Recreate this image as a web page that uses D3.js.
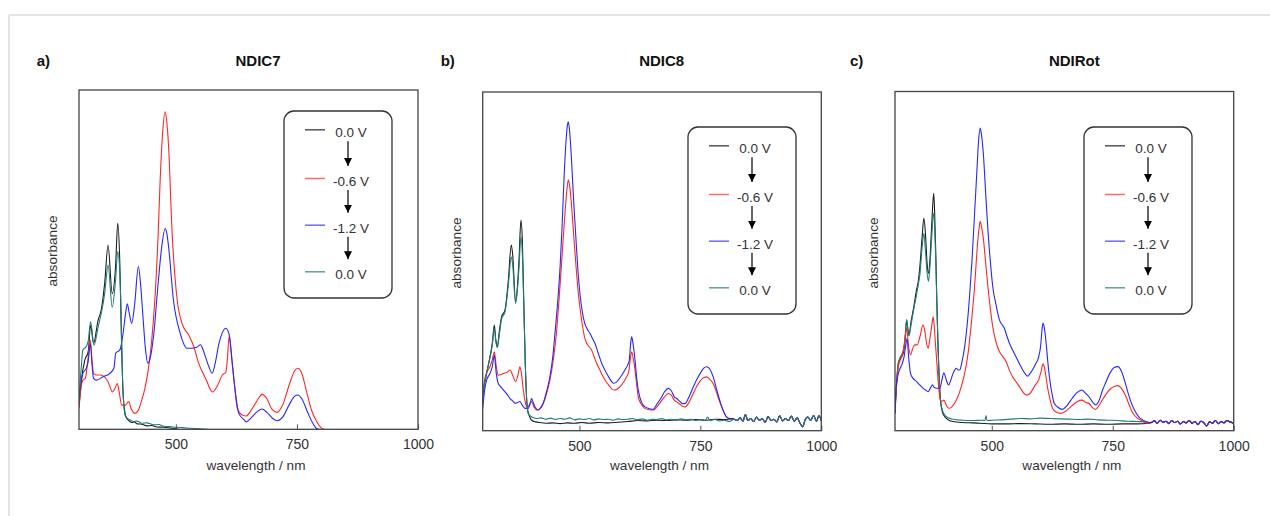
<!DOCTYPE html>
<html>
<head>
<meta charset="utf-8">
<script src="https://cdn.jsdelivr.net/npm/d3@7"></script>
<style>
  body { margin: 0; background: #fff; }
  text { font-family: "Liberation Sans", Arial, sans-serif; }
</style>
</head>
<body>
<div id="chart"></div>
<script>
// wavelength / nm vs absorbance (arbitrary units, no y ticks)
const wlTicks = [500, 750, 1000];
const legendLabels = ["0.0 V", "-0.6 V", "-1.2 V", "0.0 V"];
const panelTitles = ["NDIC7", "NDIC8", "NDIRot"];
const panelLetters = ["a)", "b)", "c)"];

// ---- NDIC7 ----
const a_black = [[300,0.067],[305,0.145],[312,0.204],[319,0.229],[324,0.307],[330,0.253],[339.5,0.322],[346,0.352],[353,0.43],[360,0.543],[368.6,0.40],[375.5,0.48],[380,0.607],[384.5,0.48],[388,0.244],[391.4,0.096],[397,0.037],[402,0.027],[408.8,0.02],[414,0.022],[420,0.016],[430,0.015],[440,0.010],[450,0.011],[460,0.007],[475,0.006],[488,0.004],[505,0.001]];
const a_teal = [[300,0.086],[304,0.17],[308,0.234],[315,0.244],[319,0.26],[324,0.317],[331,0.248],[339.5,0.302],[346,0.342],[353,0.40],[360,0.484],[368.6,0.36],[375.5,0.44],[380,0.524],[386,0.39],[390,0.145],[395,0.042],[400,0.032],[405,0.028],[412,0.023],[420,0.024],[430,0.018],[440,0.019],[454,0.013],[465,0.014],[475,0.009],[488,0.008],[500,0.006],[515,0.005],[530,0.003],[545,0.002],[560,0.001],[566,0]];
const a_red = [[300,0.062],[304,0.12],[308,0.145],[313,0.15],[318,0.2],[323.5,0.263],[327,0.2],[330,0.165],[336,0.16],[345,0.16],[352,0.155],[360,0.14],[369,0.11],[374,0.12],[379,0.135],[383,0.11],[388,0.072],[395,0.07],[402.5,0.082],[408,0.06],[415.7,0.047],[422,0.055],[429.5,0.086],[436,0.12],[443,0.175],[450,0.26],[457,0.39],[463,0.56],[467.6,0.735],[473,0.88],[478,0.936],[481,0.91],[485,0.833],[492,0.587],[502,0.39],[512.7,0.312],[526.5,0.278],[537,0.244],[547,0.195],[556,0.165],[564.6,0.14],[570,0.12],[576,0.11],[585,0.126],[596,0.16],[603,0.168],[606,0.2],[610,0.273],[614,0.23],[620,0.145],[627,0.062],[637,0.042],[645,0.039],[655,0.055],[668,0.085],[678,0.103],[688,0.09],[698,0.06],[709,0.05],[720,0.07],[735,0.135],[745,0.172],[752,0.18],[760,0.165],[770,0.11],[780,0.057],[790,0.025],[801,0.003],[806,0]];
const a_blue = [[300,0.09],[304,0.14],[308,0.165],[315,0.18],[319,0.2],[323.5,0.253],[327,0.19],[330,0.15],[336,0.145],[350,0.155],[364,0.165],[372,0.18],[376,0.225],[384.5,0.234],[391,0.283],[396,0.34],[399.7,0.37],[404,0.34],[408.8,0.312],[415,0.37],[422.6,0.48],[427,0.43],[431.6,0.342],[437,0.24],[442,0.195],[447,0.21],[453.8,0.273],[464,0.44],[471,0.54],[478,0.592],[481,0.58],[485,0.538],[495,0.381],[509,0.283],[523,0.239],[533,0.239],[543,0.242],[551,0.249],[556,0.235],[561,0.214],[568,0.185],[575,0.165],[582,0.2],[589,0.253],[596,0.285],[603,0.298],[609,0.285],[612,0.263],[616,0.2],[620,0.145],[630,0.047],[641,0.028],[645,0.022],[655,0.033],[668,0.052],[678,0.06],[688,0.05],[700,0.032],[710,0.025],[720,0.035],[735,0.075],[745,0.097],[752,0.101],[760,0.09],[773,0.047],[782,0.02],[790,0.003],[795,0]];

// ---- NDIC8 ----
// common noisy baseline where all four traces coincide
const b_tail = [[820,0.034],[826,0.03],[832,0.038],[838,0.028],[843,0.048],[848,0.03],[854,0.036],[860,0.027],[866,0.04],[872,0.031],[878,0.035],[884,0.025],[890,0.042],[896,0.03],[902,0.034],[908,0.026],[914,0.044],[920,0.029],[926,0.036],[932,0.03],[938,0.043],[944,0.028],[950,0.038],[956,0.022],[962,0.012],[966,0.03],[972,0.04],[978,0.03],[984,0.045],[990,0.028],[995,0.044],[1000,0.03]];
const b_black = [[300,0.1],[304,0.14],[308,0.169],[315,0.218],[320,0.26],[324,0.312],[327,0.27],[330,0.248],[335,0.3],[339,0.336],[346,0.356],[353,0.444],[359,0.548],[362,0.52],[368,0.38],[372,0.43],[375,0.503],[379,0.621],[382,0.56],[384,0.444],[388,0.199],[392,0.071],[396,0.045],[401,0.031],[410,0.026],[418.5,0.024],[430,0.022],[445,0.023],[460,0.021],[475,0.023],[490,0.022],[505,0.024],[520,0.022],[540,0.024],[560,0.023],[580,0.025],[600,0.027],[620,0.03],[640,0.029],[660,0.031],[680,0.030],[700,0.032],[720,0.031],[740,0.033],[760,0.031],[780,0.034],[800,0.033],[815,0.035]];
const b_teal = [[300,0.095],[304,0.14],[308,0.17],[315,0.215],[320,0.255],[324,0.302],[327,0.265],[330,0.245],[335,0.29],[339,0.33],[346,0.35],[353,0.43],[359,0.513],[362,0.49],[368,0.376],[372,0.42],[375,0.48],[379,0.572],[382,0.52],[384,0.42],[388,0.2],[391,0.09],[394,0.051],[400,0.042],[405,0.038],[411.5,0.036],[420,0.038],[430,0.034],[440,0.037],[450,0.033],[460,0.036],[470,0.034],[480,0.038],[490,0.032],[500,0.035],[510,0.033],[520,0.036],[530,0.032],[540,0.035],[550,0.033],[560,0.034],[570,0.031],[580,0.035],[590,0.033],[600,0.034],[610,0.036],[620,0.032],[630,0.035],[640,0.031],[650,0.034],[660,0.033],[670,0.036],[680,0.032],[690,0.034],[700,0.031],[710,0.035],[720,0.032],[730,0.034],[740,0.03],[750,0.033],[760,0.031],[765,0.04],[770,0.03],[780,0.033],[790,0.029],[800,0.031],[810,0.027]];
const b_red = [[300,0.105],[304,0.15],[308,0.17],[315,0.189],[320,0.21],[324,0.233],[328,0.19],[332,0.164],[337,0.165],[343,0.169],[350,0.172],[356.5,0.179],[362,0.164],[368,0.145],[373,0.165],[377,0.189],[380,0.17],[384,0.12],[388,0.085],[391,0.071],[396,0.075],[401,0.086],[406,0.07],[411.5,0.061],[416,0.063],[422,0.071],[430,0.1],[439,0.149],[446,0.21],[453,0.297],[458,0.39],[463,0.494],[470,0.641],[474,0.71],[477,0.741],[480,0.72],[484,0.66],[488,0.58],[493,0.484],[498,0.4],[504.5,0.326],[510,0.28],[515,0.258],[520,0.248],[525,0.238],[530,0.22],[535.5,0.199],[542,0.18],[549,0.159],[556,0.143],[563,0.13],[568,0.122],[573,0.12],[578,0.123],[584,0.13],[591,0.143],[597.5,0.159],[602,0.175],[605,0.21],[608,0.233],[611,0.215],[615,0.179],[618,0.14],[621.6,0.1],[628,0.078],[635,0.066],[644,0.062],[652.5,0.061],[660,0.07],[668,0.085],[676,0.1],[683.5,0.11],[690,0.105],[696,0.09],[701,0.085],[708,0.078],[713,0.072],[718,0.07],[725,0.08],[732,0.1],[742,0.13],[750,0.148],[757,0.157],[763,0.159],[769,0.152],[776.5,0.139],[783,0.115],[790,0.085],[797,0.06],[804,0.041],[810,0.036],[815,0.033]];
const b_blue = [[300,0.065],[304,0.12],[308,0.149],[315,0.169],[320,0.19],[324,0.223],[328,0.17],[332,0.14],[337,0.13],[343,0.12],[350,0.108],[356.5,0.095],[362,0.088],[367,0.081],[372,0.083],[377,0.086],[382,0.075],[387.5,0.066],[394,0.066],[398,0.08],[401,0.095],[404,0.085],[408,0.071],[415,0.061],[420,0.068],[425,0.081],[432,0.115],[439,0.16],[445,0.22],[449.4,0.287],[455,0.38],[460,0.484],[464,0.6],[468,0.74],[472,0.85],[475,0.9],[477,0.912],[480,0.88],[484,0.789],[488,0.68],[493,0.562],[497,0.47],[501,0.405],[506,0.35],[511,0.317],[516,0.3],[522,0.287],[527,0.272],[532,0.258],[539,0.228],[546,0.199],[553,0.178],[560,0.16],[565,0.148],[570,0.14],[575,0.142],[580,0.149],[587,0.163],[594,0.179],[600,0.195],[603,0.208],[606,0.26],[608,0.277],[611,0.255],[615,0.208],[618,0.16],[621.6,0.12],[628,0.085],[635,0.071],[645,0.065],[652.5,0.063],[660,0.078],[668,0.095],[676,0.115],[683.5,0.125],[690,0.118],[696,0.1],[701,0.095],[708,0.086],[713,0.08],[718,0.08],[725,0.095],[732,0.118],[742,0.15],[750,0.17],[757,0.185],[763,0.189],[769,0.183],[776.5,0.159],[783,0.125],[790,0.09],[797,0.06],[804,0.041],[811,0.036],[818,0.036]];

// ---- NDIRot ----
const c_tail = [[830,0.024],[836,0.029],[842,0.022],[848,0.031],[854,0.025],[860,0.028],[866,0.021],[872,0.03],[878,0.024],[884,0.028],[890,0.02],[896,0.027],[902,0.023],[908,0.03],[914,0.022],[920,0.027],[926,0.018],[932,0.028],[938,0.024],[944,0.014],[950,0.026],[956,0.022],[962,0.03],[968,0.021],[974,0.027],[980,0.023],[986,0.03],[992,0.026],[1000,0.022]];
const c_black = [[300,0.051],[303,0.13],[307,0.199],[312,0.215],[317,0.228],[321,0.27],[324,0.326],[327,0.295],[329,0.282],[333,0.32],[337.7,0.356],[344.5,0.415],[348,0.44],[351.4,0.484],[356,0.57],[359.6,0.626],[363,0.58],[366,0.5],[369,0.464],[372,0.5],[375.4,0.592],[380,0.70],[382,0.64],[384.3,0.523],[386.5,0.38],[389,0.248],[391.5,0.15],[394,0.09],[398,0.055],[403,0.041],[410,0.032],[420,0.027],[440,0.024],[460,0.023],[475,0.022],[500,0.02],[530,0.02],[560,0.021],[590,0.02],[620,0.019],[650,0.02],[680,0.019],[710,0.02],[740,0.019],[770,0.02],[800,0.02],[825,0.022]];
const c_teal = [[300,0.06],[303,0.14],[307,0.2],[312,0.22],[317,0.235],[321,0.28],[324,0.328],[327,0.29],[329,0.28],[333,0.31],[337.7,0.35],[344.5,0.4],[348,0.43],[351.4,0.46],[356,0.54],[359.6,0.582],[363,0.53],[366,0.47],[369,0.44],[372,0.48],[375.4,0.56],[380,0.641],[382,0.6],[384.3,0.5],[386.5,0.37],[389,0.24],[391.5,0.145],[394,0.09],[398,0.06],[403,0.046],[410,0.038],[420,0.034],[440,0.031],[460,0.03],[480,0.031],[486,0.03],[488,0.045],[490,0.03],[500,0.031],[520,0.032],[540,0.034],[560,0.036],[580,0.035],[600,0.037],[620,0.036],[640,0.035],[660,0.034],[680,0.033],[700,0.034],[720,0.032],[740,0.031],[760,0.03],[780,0.028],[800,0.027],[825,0.025]];
const c_red = [[300,0.065],[303,0.13],[307,0.189],[310,0.205],[314,0.218],[319,0.25],[324,0.302],[328,0.25],[332,0.223],[336,0.24],[341,0.253],[346,0.253],[352,0.28],[358,0.312],[362,0.29],[365,0.26],[368.5,0.243],[372,0.27],[376,0.31],[379,0.336],[381,0.31],[384,0.248],[386.5,0.2],[389,0.149],[394,0.09],[398,0.087],[401,0.09],[406,0.075],[411,0.066],[416,0.068],[423,0.081],[430,0.1],[437,0.13],[444,0.17],[451,0.228],[458,0.32],[464.5,0.425],[470,0.54],[474,0.6],[476,0.617],[479,0.6],[483,0.562],[487,0.5],[492,0.425],[497,0.36],[502,0.307],[509,0.26],[516,0.233],[522,0.22],[529.6,0.204],[536,0.18],[543,0.159],[550,0.145],[557,0.13],[564,0.115],[571,0.105],[578,0.108],[584,0.12],[590,0.135],[597,0.15],[602,0.175],[606,0.197],[609,0.185],[612,0.16],[615,0.13],[620,0.095],[625.6,0.066],[633,0.055],[643,0.051],[655,0.06],[667,0.075],[677,0.086],[686,0.09],[695,0.083],[701,0.08],[708,0.068],[714.6,0.063],[722,0.075],[729,0.092],[735,0.105],[745,0.123],[753,0.13],[761,0.133],[768,0.125],[776,0.105],[783,0.08],[790,0.056],[800,0.038],[810,0.03],[820,0.022],[828,0.022]];
const c_blue = [[300,0.05],[302,0.12],[307,0.169],[311,0.185],[314,0.194],[319,0.22],[322,0.25],[325,0.272],[328,0.22],[332,0.169],[337,0.155],[344.5,0.145],[351,0.135],[358,0.125],[363,0.12],[368.5,0.115],[373,0.125],[377.5,0.135],[381,0.128],[385.7,0.125],[392.5,0.125],[397,0.15],[400.8,0.171],[404,0.16],[407,0.145],[411,0.135],[415,0.148],[420,0.169],[424,0.18],[427,0.184],[430,0.18],[433.6,0.179],[438,0.2],[444,0.248],[449,0.31],[454,0.395],[459,0.5],[464.5,0.641],[469,0.76],[473,0.86],[476,0.892],[479,0.87],[483,0.808],[487,0.71],[492,0.592],[497,0.5],[502,0.425],[509,0.37],[516,0.326],[521,0.313],[526,0.302],[531,0.28],[536.5,0.258],[543,0.238],[550,0.218],[557,0.198],[564,0.179],[569,0.168],[574,0.161],[579,0.168],[584,0.179],[590,0.195],[597,0.218],[601,0.25],[604,0.3],[606,0.317],[609,0.3],[613,0.248],[616,0.2],[620,0.149],[625,0.105],[629,0.081],[636,0.07],[646,0.063],[656,0.075],[666,0.095],[676,0.112],[686,0.12],[694,0.11],[701,0.1],[708,0.085],[714.6,0.076],[722,0.09],[729,0.12],[735,0.14],[745,0.172],[753,0.186],[761,0.189],[768,0.175],[776,0.14],[783,0.105],[790,0.076],[797,0.055],[803.7,0.041],[812,0.032],[824,0.024],[830,0.024]];

// colours for 0.0 V, -0.6 V, -1.2 V, back to 0.0 V
const colors = {black: "#1c1c1c", red: "#ff2626", blue: "#2626ff", teal: "#1e7d78"};
const legendColors = ["#555", "#ff6b6b", "#6b6bff", "#5c9f9a"];

// panel table built from the arrays above
const panels = [
  {left: 79, top: 90, w: 339, h: 339.3, legend: [284, 111], ylab: [56.7, 251], title: 258, letter: 36.7,
   series: [[a_black, colors.black], [a_red, colors.red], [a_blue, colors.blue], [a_teal, colors.teal]]},
  {left: 482.7, top: 92, w: 338.6, h: 338.7, legend: [688, 127], ylab: [460.7, 253], title: 661.7, letter: 440.7,
   series: [[b_black.concat(b_tail), colors.black], [b_red.concat(b_tail), colors.red], [b_blue.concat(b_tail), colors.blue], [b_teal.concat(b_tail), colors.teal]]},
  {left: 895, top: 91.5, w: 338.7, h: 339.2, legend: [1084, 127], ylab: [878.3, 253], title: 1074.3, letter: 850,
   series: [[c_black.concat(c_tail), colors.black], [c_teal.concat(c_tail), colors.teal], [c_red.concat(c_tail), colors.red], [c_blue.concat(c_tail), colors.blue]]}
];

const svg = d3.select("#chart")
  .append("svg")
    .attr("width", 1270)
    .attr("height", 516);

// light page frame (top and left only)
svg.append("line").attr("x1", 9).attr("x2", 1270).attr("y1", 15).attr("y2", 15)
  .attr("stroke", "#e4e4e4").attr("stroke-width", 2);
svg.append("line").attr("x1", 9).attr("x2", 9).attr("y1", 15).attr("y2", 516)
  .attr("stroke", "#e4e4e4").attr("stroke-width", 2);

// arrowhead
svg.append("defs").append("marker")
    .attr("id", "arrow")
    .attr("viewBox", "0 0 10 10")
    .attr("refX", 10).attr("refY", 5)
    .attr("markerWidth", 8).attr("markerHeight", 8)
    .attr("markerUnits", "userSpaceOnUse")
    .attr("orient", "auto")
  .append("path")
    .attr("d", "M0,0L10,5L0,10Z")
    .attr("fill", "#000");

panels.forEach(function(p, i) {
  const bottom = p.top + p.h;
  const x = d3.scaleLinear().domain([300, 1000]).range([p.left, p.left + p.w]);
  const y = d3.scaleLinear().domain([0, 1]).range([bottom, p.top]);

  const g = svg.append("g");

  g.append("clipPath").attr("id", "clip" + i)
    .append("rect").attr("x", p.left).attr("y", p.top).attr("width", p.w).attr("height", p.h);

  const line = d3.line()
    .x(d => x(d[0]))
    .y(d => y(d[1]))
    .curve(d3.curveMonotoneX);

  g.append("g").attr("clip-path", "url(#clip" + i + ")")
    .selectAll("path")
    .data(p.series)
    .enter()
    .append("path")
      .attr("d", d => line(d[0]))
      .attr("fill", "none")
      .attr("stroke", d => d[1])
      .attr("stroke-width", 1.1);

  // bottom axis, ticks pointing inwards
  const axis = g.append("g")
    .attr("transform", "translate(0," + bottom + ")")
    .call(d3.axisBottom(x).tickValues(wlTicks).tickFormat(d3.format("d")).tickSize(-5).tickPadding(10));
  axis.select(".domain").remove();
  axis.selectAll("line").attr("stroke", "#555");
  axis.selectAll("text")
    .attr("font-family", "Liberation Sans, Arial, sans-serif")
    .attr("font-size", 14)
    .attr("fill", "#333");

  // frame
  g.append("rect")
    .attr("x", p.left).attr("y", p.top)
    .attr("width", p.w).attr("height", p.h)
    .attr("fill", "none")
    .attr("stroke", "#444")
    .attr("stroke-width", 1.3);

  g.append("text")
    .attr("x", p.left + p.w / 2 + 7.5).attr("y", 469.5)
    .attr("text-anchor", "middle")
    .attr("font-size", 13.6).attr("fill", "#333")
    .text("wavelength / nm");

  g.append("text")
    .attr("transform", "translate(" + p.ylab[0] + "," + p.ylab[1] + ") rotate(-90)")
    .attr("text-anchor", "middle")
    .attr("font-size", 13.6).attr("fill", "#333")
    .text("absorbance");

  g.append("text")
    .attr("x", p.title).attr("y", 66)
    .attr("text-anchor", "middle")
    .attr("font-size", 15).attr("font-weight", "bold").attr("fill", "#111")
    .text(panelTitles[i]);

  g.append("text")
    .attr("x", p.letter).attr("y", 66)
    .attr("font-size", 15).attr("font-weight", "bold").attr("fill", "#111")
    .text(panelLetters[i]);

  // legend with arrows between the potentials
  const lx = p.legend[0], ly = p.legend[1];
  const rows = [21.3, 70, 116.7, 163.3];
  const lg = g.append("g");
  lg.append("rect")
    .attr("x", lx).attr("y", ly).attr("width", 108).attr("height", 187)
    .attr("rx", 10).attr("ry", 10)
    .attr("fill", "#fff").attr("stroke", "#333").attr("stroke-width", 1.3);

  legendLabels.forEach(function(lab, k) {
    const ry = ly + rows[k];
    lg.append("line")
      .attr("x1", lx + 21).attr("x2", lx + 41)
      .attr("y1", ry - 2.5).attr("y2", ry - 2.5)
      .attr("stroke", legendColors[k]).attr("stroke-width", 1.5);
    lg.append("text")
      .attr("x", lx + 67).attr("y", ry + 5)
      .attr("text-anchor", "middle")
      .attr("font-size", 13.5).attr("fill", "#333")
      .text(lab);
    if (k < 3) {
      lg.append("line")
        .attr("x1", lx + 64).attr("x2", lx + 64)
        .attr("y1", ry + 9).attr("y2", ly + rows[k + 1] - 15)
        .attr("stroke", "#000").attr("stroke-width", 1.2)
        .attr("marker-end", "url(#arrow)");
    }
  });
});
</script>
</body>
</html>
